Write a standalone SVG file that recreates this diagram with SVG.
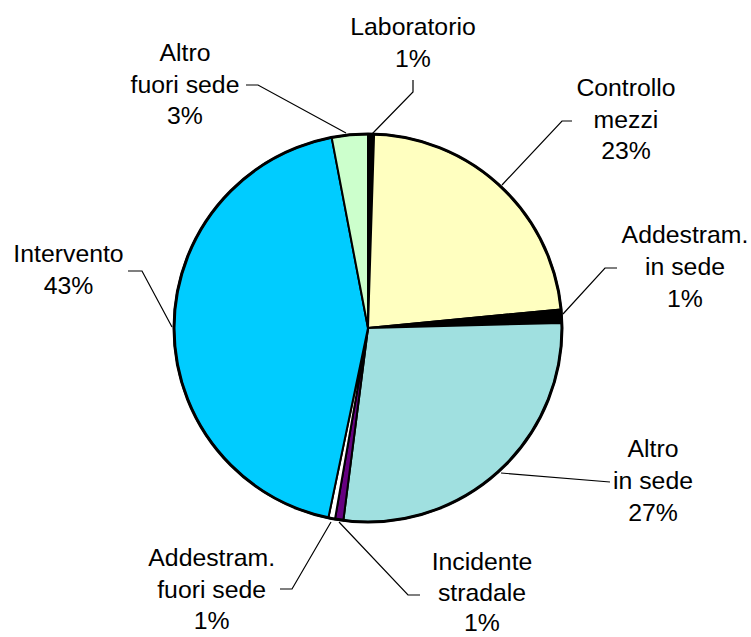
<svg xmlns="http://www.w3.org/2000/svg" width="751" height="637" viewBox="0 0 751 637">
<style>
.sl{stroke:#000;stroke-width:2;stroke-linejoin:round}
.lbl{font-family:"Liberation Sans",Arial,sans-serif;font-size:24.8px;fill:#000;text-anchor:middle}
.ld{fill:none;stroke:#000;stroke-width:1.2}
</style>
<rect width="751" height="637" fill="#fff"/>
<g id="pie">
<g id="laboratorio"><path class="sl" fill="#000" d="M368,328 L368,134 A194,194 0 0 1 374.1,134.1 Z"/></g>
<g id="controllo-mezzi"><path class="sl" fill="#FFFFC0" d="M368,328 L374.1,134.1 A194,194 0 0 1 561.1,309.4 Z"/></g>
<g id="addestram-in-sede"><path class="sl" fill="#000" d="M368,328 L561.1,309.4 A194,194 0 0 1 561.9,322.9 Z"/></g>
<g id="altro-in-sede"><path class="sl" fill="#A0E0E0" d="M368,328 L561.9,322.9 A194,194 0 0 1 343.35,520.4 Z"/></g>
<g id="incidente-stradale"><path class="sl" fill="#660080" d="M368,328 L343.35,520.4 A194,194 0 0 1 334.98,519.2 Z"/></g>
<g id="addestram-fuori-sede"><path class="sl" fill="#FFFFFF" d="M368,328 L334.98,519.2 A194,194 0 0 1 328.33,517.9 Z"/></g>
<g id="intervento"><path class="sl" fill="#00CCFF" d="M368,328 L328.33,517.9 A194,194 0 0 1 331.65,137.4 Z"/></g>
<g id="altro-fuori-sede"><path class="sl" fill="#CCFFCC" d="M368,328 L331.65,137.4 A194,194 0 0 1 368,134 Z"/></g>
<circle cx="368" cy="328" r="194" fill="none" stroke="#000" stroke-width="3"/>
</g>
<g id="connectors">
<polyline class="ld" points="413,80 413,92 372,134"/>
<polyline class="ld" points="246,85 258,85 346,133"/>
<polyline class="ld" points="572,121 562,121 502,185"/>
<polyline class="ld" points="617,268 605,268 563,314"/>
<polyline class="ld" points="610,482 501,473"/>
<polyline class="ld" points="339,522 408,595 420,595"/>
<polyline class="ld" points="280,589 292,589 331,522"/>
<polyline class="ld" points="128,271 142,271 172,327"/>
</g>
<g id="labels">
<text class="lbl" x="413" y="35">Laboratorio</text>
<text class="lbl" x="413" y="66.7">1%</text>
<text class="lbl" x="185" y="60.7">Altro</text>
<text class="lbl" x="185" y="92.7">fuori sede</text>
<text class="lbl" x="185" y="124.4">3%</text>
<text class="lbl" x="626" y="96">Controllo</text>
<text class="lbl" x="626" y="127.7">mezzi</text>
<text class="lbl" x="626" y="159.4">23%</text>
<text class="lbl" x="685" y="243.3">Addestram.</text>
<text class="lbl" x="685" y="275">in sede</text>
<text class="lbl" x="685" y="306.7">1%</text>
<text class="lbl" x="68.5" y="262.3">Intervento</text>
<text class="lbl" x="68.5" y="294">43%</text>
<text class="lbl" x="653" y="457.3">Altro</text>
<text class="lbl" x="653" y="489">in sede</text>
<text class="lbl" x="653" y="520.7">27%</text>
<text class="lbl" x="482" y="570">Incidente</text>
<text class="lbl" x="482" y="601">stradale</text>
<text class="lbl" x="482" y="631">1%</text>
<text class="lbl" x="211.7" y="566">Addestram.</text>
<text class="lbl" x="211.7" y="597.7">fuori sede</text>
<text class="lbl" x="211.7" y="629.4">1%</text>
</g>
</svg>
